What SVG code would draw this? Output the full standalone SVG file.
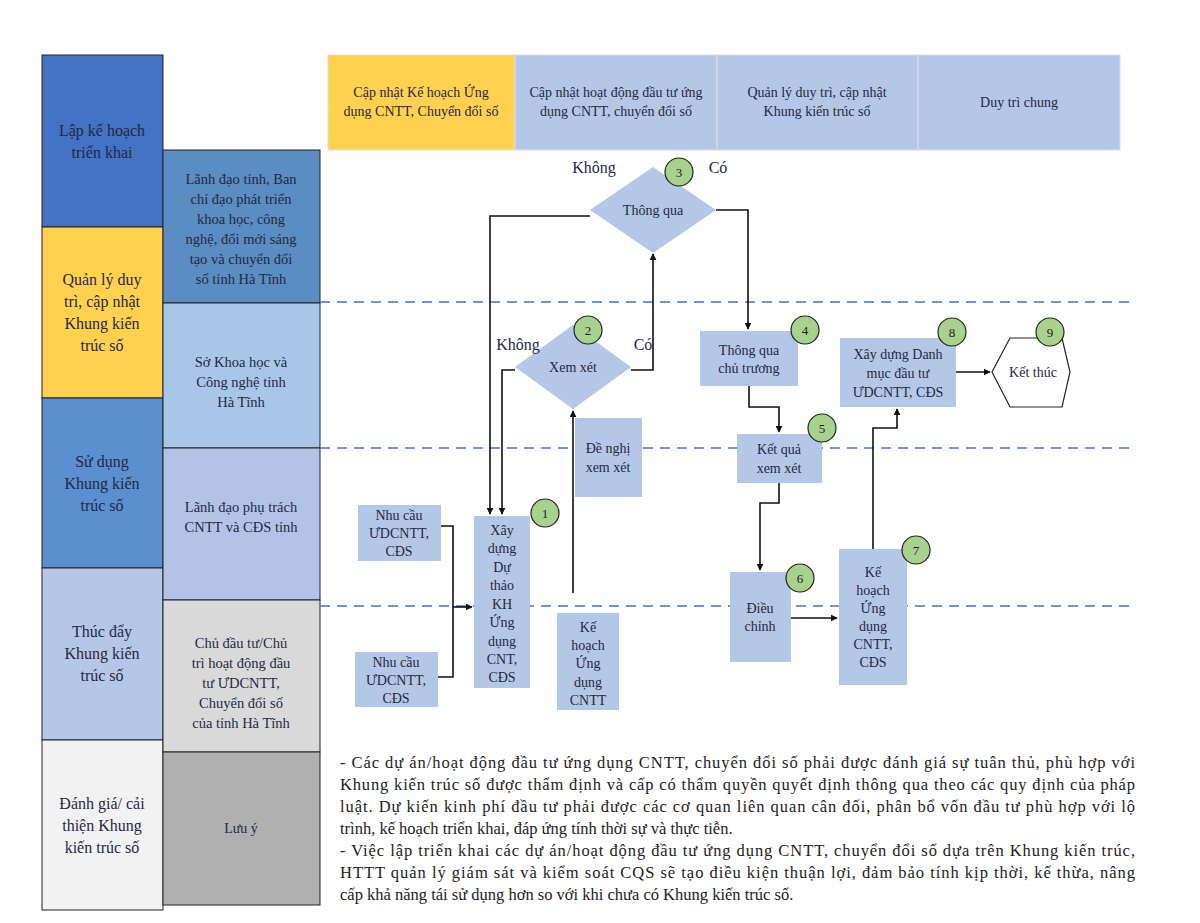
<svg xmlns="http://www.w3.org/2000/svg" width="1200" height="923" viewBox="0 0 1200 923">
<style>
text{font-family:"Liberation Serif","Times New Roman",serif;fill:#1f2a44;text-anchor:middle}
.lc{font-size:16px}
.sc{font-size:14.5px}
.b{fill:#b4c7e7}
.n{font-size:14px}
.c{fill:#a9d18e;stroke:#222;stroke-width:1.2}
.cn{font-size:13px;fill:#222}
.cl{fill:none;stroke:#111;stroke-width:1.6}
.dash{stroke:#4472c4;stroke-width:1.5;stroke-dasharray:10,7}
.note{font-size:16.5px;text-anchor:start;fill:#222}
</style>
<defs><marker id="a" viewBox="0 0 10 10" refX="9" refY="5" markerWidth="7" markerHeight="7" orient="auto" markerUnits="userSpaceOnUse"><path d="M0,0L10,5L0,10z" fill="#111"/></marker>
<marker id="ab" viewBox="0 0 10 10" refX="9" refY="5" markerWidth="12" markerHeight="12" orient="auto" markerUnits="userSpaceOnUse"><path d="M0,0L10,5L0,10z" fill="#111"/></marker></defs>
<rect width="1200" height="923" fill="#fff"/>
<g id="lanes" stroke="#222" stroke-width="1">
<rect x="42" y="55" width="121" height="172" fill="#4472c4"/>
<rect x="42" y="227" width="121" height="171" fill="#ffd14e"/>
<rect x="42" y="398" width="121" height="170" fill="#5b8fd0"/>
<rect x="42" y="568" width="121" height="172" fill="#b4c7e7"/>
<rect x="42" y="740" width="121" height="170" fill="#f2f2f2"/>
<rect x="163" y="150" width="157" height="153" fill="#5b8dc2"/>
<rect x="163" y="303" width="157" height="145" fill="#a8c6e8"/>
<rect x="163" y="448" width="157" height="152" fill="#b4c2e8"/>
<rect x="163" y="600" width="157" height="152" fill="#d9d9d9"/>
<rect x="163" y="752" width="157" height="153" fill="#b0b0b0"/>
</g>
<g id="lanetext">
<text class="lc" x="102" y="136">Lập kế hoạch</text><text class="lc" x="102" y="158">triển khai</text>
<text class="lc" x="102" y="285">Quản lý duy</text><text class="lc" x="102" y="307">trì, cập nhật</text><text class="lc" x="102" y="329">Khung kiến</text><text class="lc" x="102" y="351">trúc số</text>
<text class="lc" x="102" y="467">Sử dụng</text><text class="lc" x="102" y="489">Khung kiến</text><text class="lc" x="102" y="511">trúc số</text>
<text class="lc" x="102" y="637">Thúc đẩy</text><text class="lc" x="102" y="659">Khung kiến</text><text class="lc" x="102" y="681">trúc số</text>
<text class="lc" x="102" y="809">Đánh giá/ cải</text><text class="lc" x="102" y="831">thiện Khung</text><text class="lc" x="102" y="853">kiến trúc số</text>
<text class="sc" x="241" y="184">Lãnh đạo tỉnh, Ban</text><text class="sc" x="241" y="204">chỉ đạo phát triển</text><text class="sc" x="241" y="224">khoa học, công</text><text class="sc" x="241" y="244">nghệ, đổi mới sáng</text><text class="sc" x="241" y="264">tạo và chuyển đổi</text><text class="sc" x="241" y="284">số tỉnh Hà Tĩnh</text>
<text class="sc" x="241" y="367">Sở Khoa học và</text><text class="sc" x="241" y="387">Công nghệ tỉnh</text><text class="sc" x="241" y="407">Hà Tĩnh</text>
<text class="sc" x="241" y="512">Lãnh đạo phụ trách</text><text class="sc" x="241" y="532">CNTT và CĐS tỉnh</text>
<text class="sc" x="241" y="648">Chủ đầu tư/Chủ</text><text class="sc" x="241" y="668">trì hoạt động đầu</text><text class="sc" x="241" y="688">tư ƯDCNTT,</text><text class="sc" x="241" y="708">Chuyển đổi số</text><text class="sc" x="241" y="728">của tỉnh Hà Tĩnh</text>
<text class="n" x="241" y="833" font-size="12">Lưu ý</text>
</g>
<g id="header" stroke="#ddd">
<rect x="328" y="55" width="187" height="95" fill="#ffd14e"/>
<rect x="515" y="55" width="202" height="95" fill="#b4c7e7"/>
<rect x="717" y="55" width="201" height="95" fill="#b4c7e7"/>
<rect x="918" y="55" width="202" height="95" fill="#b4c7e7"/>
<g stroke="none">
<text class="n" x="421" y="97">Cập nhật Kế hoạch Ứng</text><text class="n" x="421" y="116">dụng CNTT, Chuyển đổi số</text>
<text class="n" x="616" y="97">Cập nhật hoạt động đầu tư ứng</text><text class="n" x="616" y="116">dụng CNTT, chuyển đổi số</text>
<text class="n" x="817" y="97">Quản lý duy trì, cập nhật</text><text class="n" x="817" y="116">Khung kiến trúc số</text>
<text class="n" x="1019" y="107">Duy trì chung</text>
</g></g>
<g id="dashes">
<line class="dash" x1="320" y1="302" x2="1130" y2="302"/>
<line class="dash" x1="320" y1="448" x2="1130" y2="448"/>
<line class="dash" x1="320" y1="606" x2="1130" y2="606"/>
</g>
<g id="connectors">
<path class="cl" d="M590,216H490V514" marker-end="url(#a)"/>
<path class="cl" d="M515,370H502V514" marker-end="url(#a)"/>
<path class="cl" d="M631,370H653V254" marker-end="url(#a)"/>
<path class="cl" d="M716,210H748V329" marker-end="url(#a)"/>
<path class="cl" d="M749,386V407H779V432" marker-end="url(#a)"/>
<path class="cl" d="M779,483V503H760V570" marker-end="url(#a)"/>
<path class="cl" d="M791,618H837" marker-end="url(#a)"/>
<path class="cl" d="M873,549V428H897V409" marker-end="url(#a)"/>
<path class="cl" d="M956,372H990" marker-end="url(#a)"/>
<path class="cl" d="M573,593V411" marker-end="url(#a)"/>
<path class="cl" d="M441,526H453V677H438"/>
<path class="cl" d="M453,607H472" marker-end="url(#a)"/>
</g>
<g id="n3"><polygon class="b" points="590,210 653,167 716,210 653,253"/><text class="n" x="653" y="215">Thông qua</text></g>
<g id="n2"><polygon class="b" points="515,367 573,325 631,367 573,409"/><text class="n" x="573" y="372">Xem xét</text></g>
<g id="n4"><rect class="b" x="700" y="331" width="98" height="55"/><text class="n" x="749" y="355">Thông qua</text><text class="n" x="749" y="373">chủ trương</text></g>
<g id="n8"><rect class="b" x="840" y="338" width="116" height="69"/><text class="n" x="898" y="359">Xây dựng Danh</text><text class="n" x="898" y="378">mục đầu tư</text><text class="n" x="898" y="397">ƯDCNTT, CĐS</text></g>
<g id="n9"><polygon points="992,372 1010,338 1062,338 1070,372 1062,407 1010,407" fill="#fff" stroke="#222" stroke-width="1.2"/><text class="n" x="1033" y="377">Kết thúc</text></g>
<g id="n5"><rect class="b" x="737" y="434" width="85" height="49"/><text class="n" x="779" y="454">Kết quả</text><text class="n" x="779" y="473">xem xét</text></g>
<g id="nd"><rect class="b" x="575" y="418" width="67" height="79"/><text class="n" x="608" y="453">Đề nghị</text><text class="n" x="608" y="472">xem xét</text></g>
<g id="n1"><rect class="b" x="474" y="516" width="56" height="172"/>
<text class="n" x="502" y="535">Xây</text><text class="n" x="502" y="553">dựng</text><text class="n" x="502" y="572">Dự</text><text class="n" x="502" y="590">thảo</text><text class="n" x="502" y="609">KH</text><text class="n" x="502" y="627">Ứng</text><text class="n" x="502" y="646">dụng</text><text class="n" x="502" y="664">CNT,</text><text class="n" x="502" y="682">CĐS</text></g>
<g id="nc1"><rect class="b" x="358" y="505" width="83" height="56"/><text class="n" x="399" y="520">Nhu cầu</text><text class="n" x="399" y="538">ƯDCNTT,</text><text class="n" x="399" y="556">CĐS</text></g>
<g id="nc2"><rect class="b" x="355" y="652" width="83" height="55"/><text class="n" x="396" y="667">Nhu cầu</text><text class="n" x="396" y="685">ƯDCNTT,</text><text class="n" x="396" y="703">CĐS</text></g>
<g id="nk"><rect class="b" x="557" y="613" width="62" height="97"/><text class="n" x="588" y="632">Kế</text><text class="n" x="588" y="650">hoạch</text><text class="n" x="588" y="668">Ứng</text><text class="n" x="588" y="687">dụng</text><text class="n" x="588" y="705">CNTT</text></g>
<g id="n6"><rect class="b" x="730" y="572" width="61" height="90"/><text class="n" x="760" y="613">Điều</text><text class="n" x="760" y="631">chỉnh</text></g>
<g id="n7"><rect class="b" x="839" y="549" width="68" height="136"/><text class="n" x="873" y="577">Kế</text><text class="n" x="873" y="595">hoạch</text><text class="n" x="873" y="613">Ứng</text><text class="n" x="873" y="631">dụng</text><text class="n" x="873" y="649">CNTT,</text><text class="n" x="873" y="667">CĐS</text></g>
<g id="circles">
<circle class="c" cx="679" cy="172" r="14"/><text class="cn" x="679" y="177">3</text>
<circle class="c" cx="588" cy="330" r="14"/><text class="cn" x="588" y="335">2</text>
<circle class="c" cx="545" cy="513" r="14"/><text class="cn" x="545" y="518">1</text>
<circle class="c" cx="805" cy="330" r="14"/><text class="cn" x="805" y="335">4</text>
<circle class="c" cx="822" cy="428" r="14"/><text class="cn" x="822" y="433">5</text>
<circle class="c" cx="800" cy="578" r="14"/><text class="cn" x="800" y="583">6</text>
<circle class="c" cx="916" cy="550" r="14"/><text class="cn" x="916" y="555">7</text>
<circle class="c" cx="952" cy="332" r="14"/><text class="cn" x="952" y="337">8</text>
<circle class="c" cx="1050" cy="332" r="14"/><text class="cn" x="1050" y="337">9</text>
</g>
<g id="labels" font-size="16">
<text class="lc" x="594" y="173">Không</text><text class="lc" x="718" y="173">Có</text>
<text class="lc" x="518" y="350">Không</text><text class="lc" x="643" y="350">Có</text>
</g>
<g id="note">
<text class="note" x="340" y="768" textLength="795" lengthAdjust="spacing">- Các dự án/hoạt động đầu tư ứng dụng CNTT, chuyển đổi số phải được đánh giá sự tuân thủ, phù hợp với</text>
<text class="note" x="340" y="790" textLength="795" lengthAdjust="spacing">Khung kiến trúc số được thẩm định và cấp có thẩm quyền quyết định thông qua theo các quy định của pháp</text>
<text class="note" x="340" y="812" textLength="795" lengthAdjust="spacing">luật. Dự kiến kinh phí đầu tư phải được các cơ quan liên quan cân đối, phân bổ vốn đầu tư phù hợp với lộ</text>
<text class="note" x="340" y="834">trình, kế hoạch triển khai, đáp ứng tính thời sự và thực tiễn.</text>
<text class="note" x="340" y="856" textLength="795" lengthAdjust="spacing">- Việc lập triển khai các dự án/hoạt động đầu tư ứng dụng CNTT, chuyển đổi số dựa trên Khung kiến trúc,</text>
<text class="note" x="340" y="878" textLength="795" lengthAdjust="spacing">HTTT quản lý giám sát và kiểm soát CQS sẽ tạo điều kiện thuận lợi, đảm bảo tính kịp thời, kế thừa, nâng</text>
<text class="note" x="340" y="900">cấp khả năng tái sử dụng hơn so với khi chưa có Khung kiến trúc số.</text>
</g>
</svg>
